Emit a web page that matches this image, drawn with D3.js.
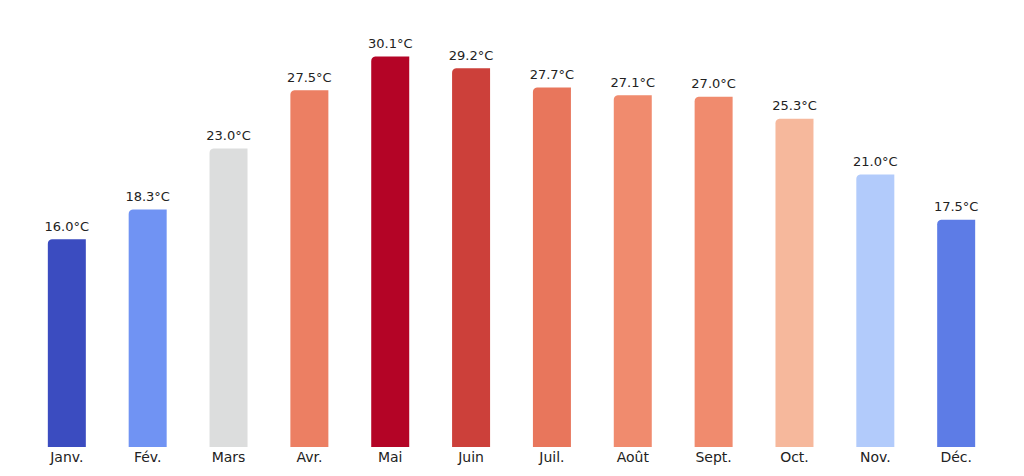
<!DOCTYPE html>
<html lang="fr">
<head>
<meta charset="UTF-8">
<script src="https://cdn.jsdelivr.net/npm/d3@7"></script>
<style>body{margin:0;background:#fff}</style>
</head>
<body>
<svg width="1024" height="476"></svg>
<script>
const months = ["Janv.","Fév.","Mars","Avr.","Mai","Juin","Juil.","Août","Sept.","Oct.","Nov.","Déc."];
const temps = [16.0,18.3,23.0,27.5,30.1,29.2,27.7,27.1,27.0,25.3,21.0,17.5];
const colors = ["#3b4cc0","#7093f3","#dcdddd","#ec7f63","#b40426","#cc403a","#e8765c","#f08b6e","#f08b6e","#f6b89c","#b2cbfb","#5d7ce6"];

const svg = d3.select("svg");
const x = d3.scaleBand().domain(months).range([26, 997]).paddingInner(0.53).paddingOuter(0.27);
const y = d3.scaleLinear().domain([0, 33.11]).range([447, 18]);

const g = svg.append("g");
g.selectAll("path")
  .data(temps)
  .join("path")
  .attr("fill", (d, i) => colors[i])
  .attr("d", (d, i) => {
    const x0 = x(months[i]), w = x.bandwidth(), t = y(d), b = y(0), r = 4;
    return `M${x0},${b}V${t + r}Q${x0},${t} ${x0 + r},${t - 0.5}L${x0 + w},${t - 0.5}V${b}Z`;
  });

g.selectAll("text.v")
  .data(temps)
  .join("text")
  .attr("class", "v")
  .attr("x", (d, i) => x(months[i]) + x.bandwidth() / 2)
  .attr("y", d => y(d) - 9)
  .attr("text-anchor", "middle")
  .style("font", "13px 'DejaVu Sans'")
  .attr("fill", "#222")
  .text(d => d.toFixed(1) + "°C");

svg.append("g")
  .attr("transform", "translate(0,447)")
  .call(d3.axisBottom(x).tickSize(0).tickPadding(5))
  .call(a => a.select(".domain").remove())
  .selectAll("text")
  .style("font", "14px 'DejaVu Sans'")
  .attr("fill", "#222");
</script>
</body>
</html>
